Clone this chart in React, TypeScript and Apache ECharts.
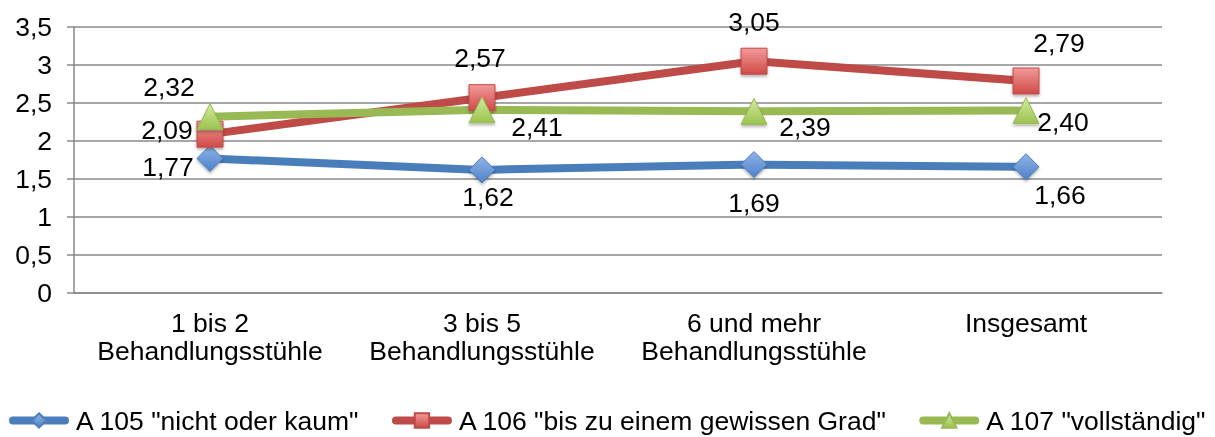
import React, { useEffect, useRef } from "react";
import * as echarts from "echarts";

const categories = ["1 bis 2\nBehandlungsstühle", "3 bis 5\nBehandlungsstühle", "6 und mehr\nBehandlungsstühle", "Insgesamt"];
const seriesNames = ['A 105 "nicht oder kaum"', 'A 106 "bis zu einem gewissen Grad"', 'A 107 "vollständig"'];
const a105 = [1.77, 1.62, 1.69, 1.66];
const a106 = [2.09, 2.57, 3.05, 2.79];
const a107 = [2.32, 2.41, 2.39, 2.40];

const labelOffsets105 = [[-42, 9], [6, 27], [0, 38], [34, 28]];
const labelOffsets106 = [[-43, -4], [-2, -40], [0, -39], [33, -38]];
const labelOffsets107 = [[-41, -30], [55, 17], [51, 16], [37, 11]];

const FONT = "'Liberation Sans', Arial, sans-serif";
const FS = 26.5;

function grad(top: string, bottom: string) {
  return new echarts.graphic.LinearGradient(0, 0, 0, 1, [
    { offset: 0, color: top },
    { offset: 1, color: bottom },
  ]);
}

function makeSeries(name: string, values: number[], offsets: number[][], color: string, symbol: string, size: number, fill: any) {
  return {
    name,
    type: "line",
    data: values.map((v, i) => ({
      value: v,
      label: { offset: offsets[i] },
    })),
    symbol,
    symbolSize: size,
    showAllSymbol: true,
    lineStyle: { color, width: 8 },
    itemStyle: { color: fill, borderColor: color, borderWidth: 1, shadowBlur: 3, shadowColor: "rgba(0,0,0,0.3)", shadowOffsetY: 2 },
    label: {
      show: true,
      position: "inside",
      color: "#000",
      fontSize: FS,
      fontFamily: FONT,
      formatter: (p: any) => p.value.toFixed(2).replace(".", ","),
    },
    emphasis: { disabled: true },
  };
}

export default function App() {
  const ref = useRef<HTMLDivElement>(null);
  useEffect(() => {
    const chart = echarts.init(ref.current!, undefined, { renderer: "svg" });
    chart.setOption({
      animation: false,
      textStyle: { fontFamily: FONT },
      grid: { left: 74, right: 53, top: 27, bottom: 144, containLabel: false },
      legend: {
        left: 9,
        right: 0,
        top: 407,
        padding: 0,
        itemWidth: 52,
        itemHeight: 18,
        itemGap: 32,
        lineStyle: { width: 8, cap: "round" },
        itemStyle: { shadowBlur: 0, shadowOffsetY: 0 },
        textStyle: { fontSize: FS, color: "#000", fontFamily: FONT, padding: [0, 0, 0, 6] },
        data: seriesNames,
      },
      xAxis: {
        type: "category",
        data: categories,
        boundaryGap: true,
        axisLine: { show: true, lineStyle: { color: "#898989", width: 1.5 } },
        axisTick: { show: false },
        axisLabel: { fontSize: FS, lineHeight: 28, color: "#000", margin: 16, fontFamily: FONT, interval: 0 },
      },
      yAxis: {
        type: "value",
        min: 0,
        max: 3.5,
        interval: 0.5,
        axisLine: { show: true, lineStyle: { color: "#898989", width: 1.5 } },
        axisTick: { show: true, length: 7, lineStyle: { color: "#898989", width: 1.5 } },
        splitLine: { show: true, lineStyle: { color: "#898989", width: 1.5 } },
        axisLabel: {
          fontSize: FS,
          color: "#000",
          margin: 22,
          fontFamily: FONT,
          formatter: (v: number) => String(v).replace(".", ","),
        },
      },
      series: [
        makeSeries(seriesNames[0], a105, labelOffsets105, "#4a7ebb", "diamond", 26, grad("#8fb4e8", "#4f81c7")),
        makeSeries(seriesNames[1], a106, labelOffsets106, "#be4b48", "rect", 26, grad("#f29a98", "#cf4a47")),
        makeSeries(seriesNames[2], a107, labelOffsets107, "#98b954", "triangle", 26, grad("#d2ec9c", "#9bc24f")),
      ],
    });
    return () => chart.dispose();
  }, []);
  return <div ref={ref} style={{ position: "fixed", left: 0, top: 0, width: 1215, height: 437 }} />;
}
